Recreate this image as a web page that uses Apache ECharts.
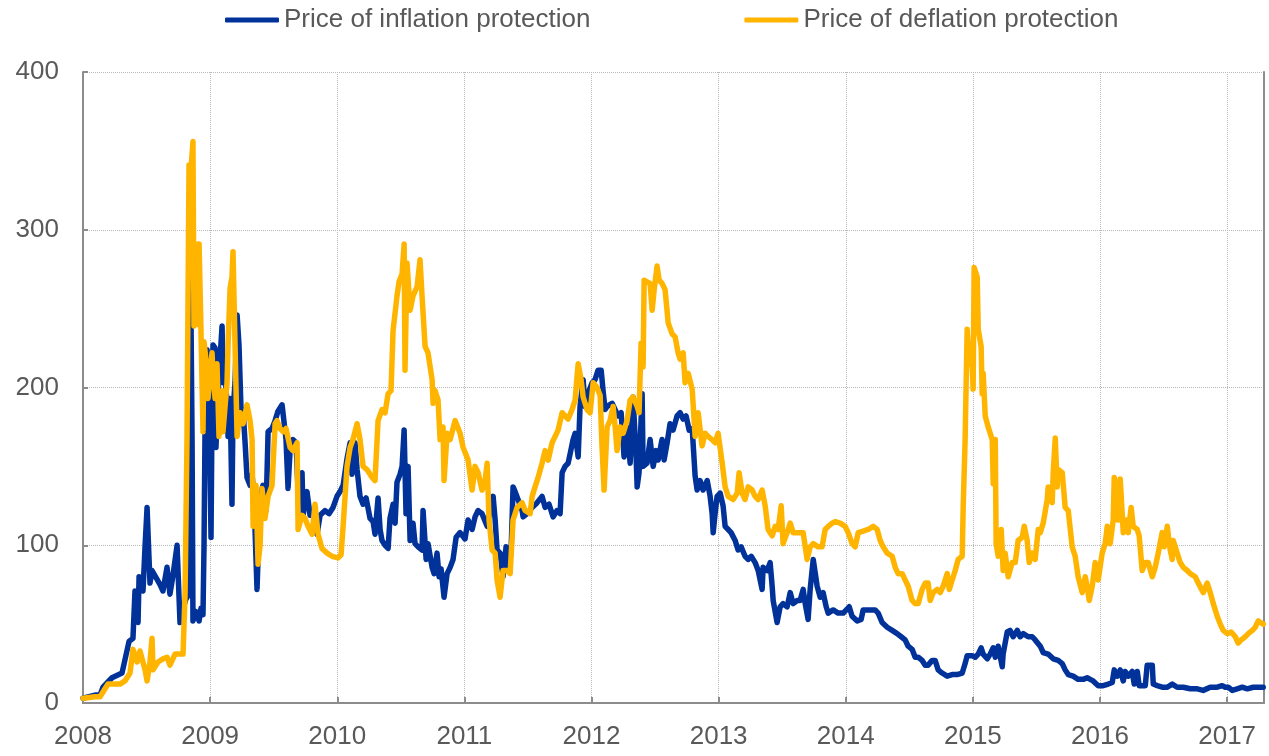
<!DOCTYPE html>
<html>
<head>
<meta charset="utf-8">
<script src="https://cdn.jsdelivr.net/npm/echarts@6/dist/echarts.min.js"></script>
<style>html,body{margin:0;padding:0;background:#fff}#chart{width:1269px;height:756px}</style>
</head>
<body>
<div id="chart"></div>
<script>
// Decimal years on the x axis; values in basis points
const seriesNames = ['Price of inflation protection', 'Price of deflation protection'];
const xTickYears = [2008, 2009, 2010, 2011, 2012, 2013, 2014, 2015, 2016, 2017];
const yTicks = [0, 100, 200, 300, 400];

const inflation = [
[2008.000,3],[2008.094,5],[2008.134,5],[2008.157,10],[2008.228,16],[2008.307,19],[2008.362,39],[2008.393,41],[2008.409,71],[2008.433,51],
[2008.441,80],[2008.472,71],[2008.488,99],[2008.504,124],[2008.511,109],[2008.527,76],[2008.543,84],[2008.606,75],[2008.629,71],[2008.661,86],
[2008.684,69],[2008.708,81],[2008.740,100],[2008.763,51],[2008.787,60],[2008.810,66],[2008.834,69],[2008.842,281],[2008.850,240],[2008.858,167],
[2008.865,52],[2008.889,58],[2008.913,52],[2008.928,60],[2008.944,56],[2008.952,100],[2008.960,174],[2008.976,224],[2008.991,200],[2009.007,105],
[2009.015,184],[2009.023,227],[2009.039,225],[2009.046,162],[2009.062,196],[2009.070,208],[2009.094,239],[2009.101,203],[2009.117,210],[2009.133,189],
[2009.141,169],[2009.157,193],[2009.172,126],[2009.180,185],[2009.196,203],[2009.212,246],[2009.227,227],[2009.243,186],[2009.259,186],[2009.275,165],
[2009.290,143],[2009.314,138],[2009.330,145],[2009.345,129],[2009.369,72],[2009.393,131],[2009.416,138],[2009.440,122],[2009.456,172],[2009.487,174],
[2009.511,179],[2009.534,185],[2009.566,189],[2009.581,189],[2009.597,167],[2009.613,136],[2009.629,160],[2009.652,167],[2009.676,165],[2009.692,134],
[2009.723,146],[2009.731,119],[2009.762,134],[2009.786,119],[2009.825,122],[2009.841,107],[2009.865,119],[2009.904,122],[2009.935,120],[2009.967,124],
[2009.998,131],[2010.022,134],[2010.046,138],[2010.077,155],[2010.101,165],[2010.116,145],[2010.140,165],[2010.156,148],[2010.179,131],[2010.203,126],
[2010.227,130],[2010.258,117],[2010.282,115],[2010.297,107],[2010.321,130],[2010.337,110],[2010.352,103],[2010.376,100],[2010.400,98],[2010.415,117],
[2010.439,126],[2010.455,114],[2010.470,140],[2010.494,145],[2010.510,150],[2010.526,173],[2010.541,120],[2010.557,150],[2010.573,103],[2010.596,114],
[2010.612,101],[2010.636,99],[2010.667,97],[2010.675,122],[2010.699,91],[2010.714,101],[2010.746,86],[2010.762,82],[2010.785,95],[2010.801,80],
[2010.817,85],[2010.840,67],[2010.864,82],[2010.888,86],[2010.911,91],[2010.935,105],[2010.966,108],[2011.005,104],[2011.029,116],[2011.061,110],
[2011.084,118],[2011.108,122],[2011.139,120],[2011.179,112],[2011.202,122],[2011.226,131],[2011.242,116],[2011.257,97],[2011.281,95],[2011.304,80],
[2011.328,99],[2011.344,86],[2011.367,95],[2011.383,137],[2011.399,134],[2011.422,129],[2011.454,122],[2011.462,118],[2011.493,120],[2011.533,124],
[2011.572,127],[2011.611,131],[2011.635,124],[2011.666,126],[2011.698,118],[2011.729,122],[2011.753,120],[2011.769,146],[2011.792,150],[2011.816,152],
[2011.832,158],[2011.855,167],[2011.871,171],[2011.895,156],[2011.910,188],[2011.934,205],[2011.950,188],[2011.973,196],[2012.005,203],[2012.028,205],
[2012.052,211],[2012.076,211],[2012.091,198],[2012.107,186],[2012.123,188],[2012.162,190],[2012.186,186],[2012.209,182],[2012.233,184],[2012.256,156],
[2012.280,175],[2012.304,152],[2012.327,194],[2012.351,156],[2012.359,137],[2012.374,146],[2012.398,196],[2012.406,150],[2012.437,152],[2012.461,167],
[2012.485,150],[2012.508,160],[2012.524,154],[2012.555,167],[2012.571,154],[2012.595,165],[2012.618,177],[2012.642,173],[2012.673,182],[2012.697,184],
[2012.721,180],[2012.744,182],[2012.768,173],[2012.792,174],[2012.815,144],[2012.831,135],[2012.854,141],[2012.878,135],[2012.910,141],[2012.933,131],
[2012.949,120],[2012.957,108],[2012.972,120],[2012.988,131],[2013.012,133],[2013.035,125],[2013.051,112],[2013.075,110],[2013.098,108],[2013.130,103],
[2013.153,97],[2013.177,99],[2013.208,93],[2013.232,91],[2013.256,93],[2013.287,89],[2013.311,84],[2013.342,72],[2013.350,86],[2013.382,84],
[2013.405,89],[2013.421,74],[2013.429,65],[2013.460,51],[2013.484,61],[2013.507,63],[2013.539,61],[2013.563,70],[2013.586,63],[2013.618,65],
[2013.641,65],[2013.665,72],[2013.681,63],[2013.704,53],[2013.720,72],[2013.744,91],[2013.759,91],[2013.775,74],[2013.799,67],[2013.822,70],
[2013.846,61],[2013.862,57],[2013.901,59],[2013.940,57],[2013.980,57],[2014.027,61],[2014.050,55],[2014.090,52],[2014.121,53],[2014.137,59],
[2014.176,59],[2014.231,59],[2014.255,57],[2014.286,51],[2014.326,48],[2014.365,46],[2014.404,44],[2014.436,42],[2014.467,40],[2014.491,36],
[2014.522,34],[2014.546,29],[2014.570,29],[2014.601,27],[2014.625,24],[2014.648,24],[2014.680,27],[2014.703,27],[2014.727,21],[2014.758,19],
[2014.798,17],[2014.837,18],[2014.876,18],[2014.916,19],[2014.939,25],[2014.955,30],[2014.994,30],[2015.018,29],[2015.042,31],[2015.065,35],
[2015.081,31],[2015.113,28],[2015.136,31],[2015.160,35],[2015.176,29],[2015.199,36],[2015.231,23],[2015.238,31],[2015.270,45],[2015.293,46],
[2015.317,42],[2015.349,46],[2015.372,42],[2015.396,44],[2015.435,42],[2015.467,42],[2015.490,40],[2015.530,36],[2015.553,32],[2015.592,31],
[2015.632,28],[2015.671,27],[2015.703,25],[2015.726,21],[2015.750,18],[2015.789,17],[2015.828,15],[2015.868,15],[2015.899,16],[2015.923,15],
[2015.946,14],[2015.986,11],[2016.025,11],[2016.065,12],[2016.096,13],[2016.112,21],[2016.135,17],[2016.159,21],[2016.183,14],[2016.198,20],
[2016.222,17],[2016.253,20],[2016.269,12],[2016.293,20],[2016.308,11],[2016.356,11],[2016.371,24],[2016.411,24],[2016.419,12],[2016.450,11],
[2016.489,10],[2016.529,10],[2016.568,12],[2016.607,10],[2016.655,10],[2016.710,9],[2016.765,9],[2016.812,8],[2016.867,10],[2016.922,10],
[2016.961,11],[2016.985,10],[2017.009,10],[2017.040,8],[2017.079,9],[2017.119,10],[2017.158,9],[2017.205,10],[2017.245,10],[2017.284,10]
];

const deflation = [
[2008.000,3],[2008.094,4],[2008.134,4],[2008.173,9],[2008.197,12],[2008.291,12],[2008.330,14],[2008.370,19],[2008.393,34],[2008.425,26],
[2008.448,33],[2008.488,21],[2008.504,14],[2008.527,26],[2008.543,41],[2008.551,21],[2008.590,26],[2008.629,28],[2008.661,29],[2008.684,24],
[2008.724,31],[2008.763,31],[2008.787,31],[2008.803,70],[2008.818,167],[2008.834,341],[2008.842,330],[2008.865,356],[2008.873,239],[2008.889,291],
[2008.905,240],[2008.913,291],[2008.928,236],[2008.944,172],[2008.952,229],[2008.968,217],[2008.983,193],[2009.015,222],[2009.023,208],[2009.039,193],
[2009.054,215],[2009.070,169],[2009.094,198],[2009.101,172],[2009.133,203],[2009.141,227],[2009.157,263],[2009.172,270],[2009.180,286],[2009.196,227],
[2009.212,169],[2009.235,184],[2009.259,177],[2009.290,189],[2009.314,179],[2009.330,167],[2009.338,112],[2009.361,138],[2009.377,88],[2009.393,100],
[2009.408,136],[2009.432,117],[2009.456,131],[2009.487,138],[2009.511,177],[2009.526,179],[2009.550,174],[2009.574,172],[2009.597,174],[2009.629,162],
[2009.652,160],[2009.684,165],[2009.692,110],[2009.723,119],[2009.747,117],[2009.770,112],[2009.802,107],[2009.825,126],[2009.849,107],[2009.880,98],
[2009.920,95],[2009.959,93],[2010.006,92],[2010.030,94],[2010.046,112],[2010.077,150],[2010.101,162],[2010.124,167],[2010.156,177],[2010.179,167],
[2010.203,150],[2010.234,148],[2010.274,143],[2010.297,141],[2010.321,179],[2010.352,186],[2010.376,184],[2010.400,196],[2010.423,198],[2010.439,236],
[2010.470,258],[2010.486,267],[2010.510,272],[2010.526,291],[2010.533,211],[2010.549,279],[2010.573,249],[2010.596,258],[2010.628,264],[2010.651,281],
[2010.667,258],[2010.691,226],[2010.714,222],[2010.746,205],[2010.754,190],[2010.769,198],[2010.793,192],[2010.809,167],[2010.832,175],[2010.840,141],
[2010.864,171],[2010.888,167],[2010.927,179],[2010.966,171],[2010.990,162],[2011.029,154],[2011.061,135],[2011.084,150],[2011.108,146],[2011.139,135],
[2011.163,141],[2011.179,152],[2011.194,116],[2011.218,97],[2011.242,95],[2011.257,78],[2011.281,67],[2011.304,84],[2011.336,84],[2011.360,82],
[2011.383,116],[2011.415,124],[2011.454,127],[2011.478,122],[2011.517,120],[2011.533,131],[2011.556,137],[2011.580,143],[2011.611,152],[2011.635,160],
[2011.659,154],[2011.690,165],[2011.714,169],[2011.737,173],[2011.769,184],[2011.792,182],[2011.816,180],[2011.847,186],[2011.871,192],[2011.895,215],
[2011.918,205],[2011.934,194],[2011.965,186],[2011.989,184],[2012.013,203],[2012.044,200],[2012.068,195],[2012.083,162],[2012.099,135],[2012.123,175],
[2012.146,179],[2012.170,188],[2012.186,175],[2012.201,160],[2012.225,175],[2012.249,171],[2012.280,179],[2012.304,192],[2012.327,194],[2012.359,188],
[2012.374,184],[2012.390,228],[2012.406,213],[2012.414,268],[2012.437,267],[2012.461,266],[2012.477,249],[2012.493,262],[2012.516,277],[2012.532,268],
[2012.555,266],[2012.579,262],[2012.603,241],[2012.634,234],[2012.658,232],[2012.681,222],[2012.697,218],[2012.721,222],[2012.736,203],[2012.760,209],
[2012.792,199],[2012.815,169],[2012.839,184],[2012.870,163],[2012.894,171],[2012.917,169],[2012.949,167],[2012.972,165],[2012.996,171],[2013.028,152],
[2013.051,137],[2013.075,131],[2013.114,129],[2013.146,133],[2013.161,146],[2013.185,133],[2013.208,129],[2013.232,137],[2013.264,135],[2013.287,131],
[2013.311,129],[2013.342,135],[2013.366,125],[2013.389,110],[2013.421,106],[2013.445,112],[2013.468,110],[2013.492,125],[2013.507,101],[2013.539,108],
[2013.563,114],[2013.586,108],[2013.626,108],[2013.665,108],[2013.696,91],[2013.720,99],[2013.744,101],[2013.783,99],[2013.814,99],[2013.838,110],
[2013.862,112],[2013.893,114],[2013.917,115],[2013.956,114],[2013.995,112],[2014.019,108],[2014.050,101],[2014.074,99],[2014.098,108],[2014.137,109],
[2014.176,110],[2014.216,112],[2014.247,110],[2014.271,103],[2014.294,99],[2014.326,95],[2014.365,93],[2014.389,86],[2014.412,82],[2014.444,82],
[2014.467,78],[2014.491,74],[2014.522,65],[2014.546,63],[2014.570,63],[2014.601,72],[2014.625,76],[2014.648,76],[2014.664,65],[2014.688,70],
[2014.719,72],[2014.743,70],[2014.766,74],[2014.798,82],[2014.814,72],[2014.837,78],[2014.861,84],[2014.884,91],[2014.916,93],[2014.924,125],
[2014.939,167],[2014.955,237],[2014.971,215],[2014.987,228],[2015.002,199],[2015.010,276],[2015.034,270],[2015.042,237],[2015.065,226],[2015.073,196],
[2015.081,209],[2015.097,182],[2015.120,175],[2015.152,167],[2015.160,139],[2015.176,167],[2015.183,101],[2015.199,93],[2015.223,110],[2015.238,84],
[2015.254,95],[2015.278,80],[2015.309,89],[2015.333,89],[2015.356,103],[2015.388,105],[2015.404,112],[2015.427,103],[2015.443,89],[2015.467,95],
[2015.490,91],[2015.514,110],[2015.530,108],[2015.553,114],[2015.585,129],[2015.592,137],[2015.624,127],[2015.632,146],[2015.648,168],[2015.663,137],
[2015.671,148],[2015.703,146],[2015.726,124],[2015.750,122],[2015.781,99],[2015.805,93],[2015.828,80],[2015.860,70],[2015.884,80],[2015.899,74],
[2015.915,65],[2015.939,74],[2015.962,89],[2015.986,78],[2016.017,95],[2016.041,101],[2016.057,112],[2016.080,101],[2016.104,116],[2016.112,143],
[2016.135,131],[2016.143,116],[2016.159,142],[2016.183,108],[2016.206,116],[2016.222,108],[2016.245,124],[2016.261,112],[2016.293,110],[2016.308,106],
[2016.332,84],[2016.356,89],[2016.379,89],[2016.411,80],[2016.434,86],[2016.458,95],[2016.489,108],[2016.505,99],[2016.529,112],[2016.552,97],
[2016.568,91],[2016.576,103],[2016.607,95],[2016.631,89],[2016.655,86],[2016.686,84],[2016.710,82],[2016.749,80],[2016.773,76],[2016.812,70],
[2016.843,76],[2016.867,70],[2016.891,63],[2016.922,55],[2016.946,50],[2016.969,46],[2017.001,44],[2017.032,45],[2017.064,42],[2017.087,38],
[2017.111,40],[2017.143,42],[2017.166,44],[2017.198,46],[2017.221,48],[2017.245,52],[2017.284,50]
];

const FONT = "'Liberation Sans', Arial, sans-serif";
const TEXT = '#595959';
const AXIS = '#8c8c8c';
const GRIDC = '#b8b8b8';

const chart = echarts.init(document.getElementById('chart'), null, {renderer: 'canvas'});
chart.setOption({
  animation: false,
  backgroundColor: '#ffffff',
  textStyle: {fontFamily: FONT},
  legend: {
    top: 2, left: 220,
    itemWidth: 54, itemHeight: 5, itemGap: 154,
    icon: 'roundRect',
    textStyle: {fontSize: 26, color: TEXT, fontFamily: FONT},
    data: seriesNames
  },
  grid: {left: 83, right: 5, top: 72, bottom: 53, containLabel: false},
  xAxis: {
    type: 'value',
    min: xTickYears[0], max: 2017.29, interval: 1,
    axisLine: {show: true, lineStyle: {color: AXIS, width: 2}},
    axisTick: {show: true, inside: true, length: 6, lineStyle: {color: AXIS, width: 2}},
    axisLabel: {
      fontSize: 26, color: TEXT, fontFamily: FONT, margin: 21,
      showMaxLabel: false,
      formatter: v => (xTickYears.indexOf(v) >= 0 ? String(v) : '')
    },
    splitLine: {show: true, lineStyle: {color: GRIDC, type: 'dotted', width: 1}}
  },
  yAxis: [{
    type: 'value',
    min: yTicks[0], max: yTicks[yTicks.length - 1], interval: 100,
    axisLine: {show: true, lineStyle: {color: AXIS, width: 2}},
    axisTick: {show: true, inside: true, length: 5, lineStyle: {color: AXIS, width: 2}},
    axisLabel: {fontSize: 26, color: TEXT, fontFamily: FONT, margin: 24},
    splitLine: {show: true, lineStyle: {color: GRIDC, type: 'dotted', width: 1}}
  }, {
    type: 'value', position: 'right',
    min: yTicks[0], max: yTicks[yTicks.length - 1], interval: 100,
    axisLine: {show: true, lineStyle: {color: AXIS, width: 2}},
    axisTick: {show: false}, axisLabel: {show: false}, splitLine: {show: false}
  }],
  series: [{
    name: seriesNames[0], type: 'line', data: inflation,
    showSymbol: false, symbol: 'none',
    color: '#003299',
    lineStyle: {color: '#003299', width: 5.5, join: 'round', cap: 'round'}
  }, {
    name: seriesNames[1], type: 'line', data: deflation,
    showSymbol: false, symbol: 'none',
    color: '#FFB400',
    lineStyle: {color: '#FFB400', width: 5.5, join: 'round', cap: 'round'}
  }]
});
</script>
</body>
</html>
